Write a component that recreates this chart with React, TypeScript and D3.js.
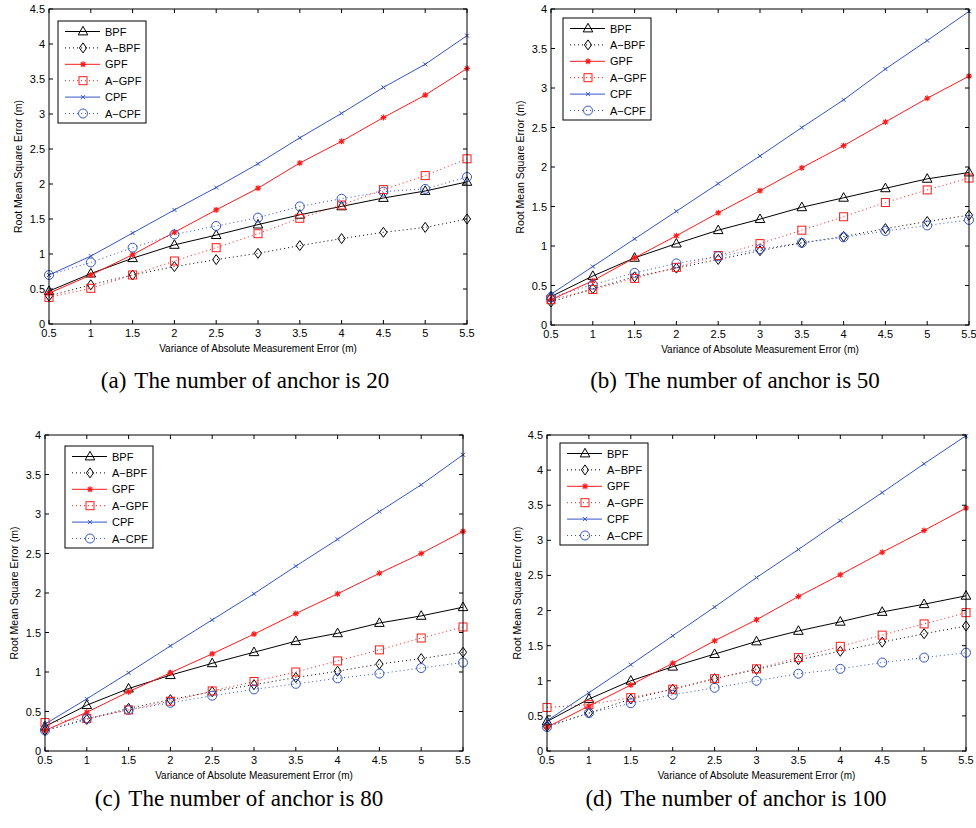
import React from "react";
import * as d3 from "d3";

// Variance of absolute measurement error (m)
const xValues = [0.5, 1, 1.5, 2, 2.5, 3, 3.5, 4, 4.5, 5, 5.5];
const xTicks = [0.5, 1, 1.5, 2, 2.5, 3, 3.5, 4, 4.5, 5, 5.5];

const seriesNames = ["BPF", "A\u2212BPF", "GPF", "A\u2212GPF", "CPF", "A\u2212CPF"];

// 20 anchors
const bpf20 = [0.47, 0.72, 0.94, 1.13, 1.27, 1.42, 1.56, 1.68, 1.80, 1.90, 2.03];
const abpf20 = [0.40, 0.56, 0.70, 0.82, 0.92, 1.01, 1.12, 1.22, 1.31, 1.38, 1.50];
const gpf20 = [0.44, 0.70, 0.99, 1.31, 1.63, 1.94, 2.30, 2.61, 2.95, 3.27, 3.65];
const agpf20 = [0.38, 0.51, 0.70, 0.90, 1.09, 1.29, 1.51, 1.70, 1.92, 2.12, 2.36];
const cpf20 = [0.70, 0.97, 1.30, 1.63, 1.95, 2.29, 2.66, 3.01, 3.38, 3.71, 4.12];
const acpf20 = [0.70, 0.88, 1.09, 1.28, 1.40, 1.52, 1.68, 1.79, 1.89, 1.93, 2.10];

// 50 anchors
const bpf50 = [0.36, 0.62, 0.85, 1.03, 1.20, 1.34, 1.49, 1.61, 1.73, 1.85, 1.93];
const abpf50 = [0.29, 0.46, 0.61, 0.72, 0.83, 0.94, 1.04, 1.12, 1.22, 1.31, 1.39];
const gpf50 = [0.32, 0.56, 0.85, 1.13, 1.42, 1.70, 1.99, 2.27, 2.57, 2.87, 3.15];
const agpf50 = [0.32, 0.45, 0.59, 0.73, 0.88, 1.03, 1.20, 1.37, 1.55, 1.71, 1.86];
const cpf50 = [0.39, 0.74, 1.09, 1.44, 1.79, 2.14, 2.50, 2.85, 3.24, 3.60, 3.97];
const acpf50 = [0.35, 0.51, 0.66, 0.78, 0.87, 0.96, 1.04, 1.11, 1.19, 1.26, 1.33];

// 80 anchors
const bpf80 = [0.31, 0.58, 0.79, 0.96, 1.11, 1.25, 1.39, 1.49, 1.62, 1.71, 1.82];
const abpf80 = [0.26, 0.40, 0.54, 0.65, 0.75, 0.84, 0.93, 1.01, 1.10, 1.17, 1.25];
const gpf80 = [0.26, 0.49, 0.75, 0.99, 1.23, 1.48, 1.74, 1.99, 2.25, 2.50, 2.78];
const agpf80 = [0.36, 0.41, 0.52, 0.63, 0.76, 0.88, 1.00, 1.14, 1.28, 1.43, 1.57];
const cpf80 = [0.34, 0.66, 0.99, 1.33, 1.66, 1.99, 2.34, 2.68, 3.03, 3.37, 3.75];
const acpf80 = [0.26, 0.41, 0.52, 0.61, 0.70, 0.78, 0.85, 0.92, 0.98, 1.05, 1.12];

// 100 anchors
const bpf100 = [0.42, 0.74, 1.00, 1.20, 1.38, 1.56, 1.71, 1.84, 1.98, 2.09, 2.21];
const abpf100 = [0.35, 0.54, 0.74, 0.88, 1.03, 1.16, 1.30, 1.42, 1.55, 1.67, 1.78];
const gpf100 = [0.34, 0.64, 0.94, 1.25, 1.57, 1.87, 2.20, 2.51, 2.83, 3.14, 3.46];
const agpf100 = [0.62, 0.66, 0.76, 0.88, 1.03, 1.17, 1.33, 1.49, 1.65, 1.81, 1.97];
const cpf100 = [0.43, 0.83, 1.23, 1.64, 2.05, 2.47, 2.87, 3.28, 3.68, 4.09, 4.49];
const acpf100 = [0.34, 0.54, 0.68, 0.80, 0.90, 1.00, 1.10, 1.17, 1.26, 1.33, 1.40];

const captionTags = ["(a)", "(b)", "(c)", "(d)"];
const captionTexts = [
  "The number of anchor is 20",
  "The number of anchor is 50",
  "The number of anchor is 80",
  "The number of anchor is 100",
];

const yMaxes = [4.5, 4, 4, 4.5];

const BLACK = "#000000";
const RED = "#ff1a1a";
const BLUE = "#3355c4";

type Marker = "triangle" | "diamond" | "star" | "square" | "x" | "circle";

const styles: { color: string; dotted: boolean; marker: Marker }[] = [
  { color: BLACK, dotted: false, marker: "triangle" },
  { color: BLACK, dotted: true, marker: "diamond" },
  { color: RED, dotted: false, marker: "star" },
  { color: RED, dotted: true, marker: "square" },
  { color: BLUE, dotted: false, marker: "x" },
  { color: BLUE, dotted: true, marker: "circle" },
];

const panelSeries = [
  [bpf20, abpf20, gpf20, agpf20, cpf20, acpf20],
  [bpf50, abpf50, gpf50, agpf50, cpf50, acpf50],
  [bpf80, abpf80, gpf80, agpf80, cpf80, acpf80],
  [bpf100, abpf100, gpf100, agpf100, cpf100, acpf100],
];

const layouts = [
  { left: 49, right: 467, top: 9, bottom: 324, legX: 58, legY: 21, yLabelX: 18, captionX: 245, captionY: 388 },
  { left: 551, right: 969, top: 9, bottom: 325, legX: 563, legY: 18, yLabelX: 520, captionX: 735, captionY: 388 },
  { left: 45, right: 463, top: 435, bottom: 751, legX: 65, legY: 446, yLabelX: 14, captionX: 239, captionY: 806 },
  { left: 547, right: 966, top: 435, bottom: 751, legX: 560, legY: 443, yLabelX: 517, captionX: 736, captionY: 806 },
];

const AXIS_FONT = "'Liberation Sans', Arial, Helvetica, sans-serif";
const CAPTION_FONT = "'Liberation Serif', 'Times New Roman', Times, serif";

function MarkerGlyph({ kind, x, y, color }: { kind: Marker; x: number; y: number; color: string }) {
  const t = `translate(${x},${y})`;
  switch (kind) {
    case "triangle":
      return <path transform={t} d="M0,-5.2 L4.8,3.4 L-4.8,3.4 Z" fill="none" stroke={color} strokeWidth={1} />;
    case "diamond":
      return <path transform={t} d="M0,-5 L3.6,0 L0,5 L-3.6,0 Z" fill="none" stroke={color} strokeWidth={1} />;
    case "square":
      return <rect transform={t} x={-4} y={-4} width={8} height={8} fill="none" stroke={color} strokeWidth={1} />;
    case "circle":
      return <circle transform={t} r={4.5} fill="none" stroke={color} strokeWidth={1} />;
    case "x":
      return <path transform={t} d="M-2,-2 L2,2 M-2,2 L2,-2" fill="none" stroke={color} strokeWidth={1} />;
    case "star":
      return (
        <path
          transform={t}
          d="M-3,0 L3,0 M0,-3 L0,3 M-2.2,-2.2 L2.2,2.2 M-2.2,2.2 L2.2,-2.2"
          fill="none"
          stroke={color}
          strokeWidth={1.1}
        />
      );
  }
  return null;
}

function Panel({ index }: { index: number }) {
  const L = layouts[index];
  const yMax = yMaxes[index];
  const series = panelSeries[index];
  const x = d3.scaleLinear().domain([0.5, 5.5]).range([L.left, L.right]);
  const y = d3.scaleLinear().domain([0, yMax]).range([L.bottom, L.top]);
  const yTicks = d3.range(0, yMax + 0.001, 0.5);
  const line = d3
    .line<number>()
    .x((_, i) => x(xValues[i]))
    .y((d) => y(d));
  const tickLen = 4;

  const rowH = 16.4;
  const legW = 88;
  const legH = 102;

  return (
    <g>
      <rect x={L.left} y={L.top} width={L.right - L.left} height={L.bottom - L.top} fill="white" stroke="none" />

      {/* series */}
      {series.map((vals, si) => {
        const s = styles[si];
        return (
          <g key={si}>
            <path
              d={line(vals) || ""}
              fill="none"
              stroke={s.color}
              strokeWidth={1}
              strokeDasharray={s.dotted ? "1,3" : undefined}
            />
            {vals.map((v, i) => (
              <MarkerGlyph key={i} kind={s.marker} x={x(xValues[i])} y={y(v)} color={s.color} />
            ))}
          </g>
        );
      })}

      {/* ticks on all four sides */}
      {xTicks.map((t) => (
        <g key={"xt" + t}>
          <line x1={x(t)} x2={x(t)} y1={L.bottom} y2={L.bottom - tickLen} stroke="#000" strokeWidth={1} />
          <line x1={x(t)} x2={x(t)} y1={L.top} y2={L.top + tickLen} stroke="#000" strokeWidth={1} />
          <text x={x(t)} y={L.bottom + 13} textAnchor="middle" fontFamily={AXIS_FONT} fontSize={11} fill="#000">
            {String(t)}
          </text>
        </g>
      ))}
      {yTicks.map((t) => (
        <g key={"yt" + t}>
          <line x1={L.left} x2={L.left + tickLen} y1={y(t)} y2={y(t)} stroke="#000" strokeWidth={1} />
          <line x1={L.right} x2={L.right - tickLen} y1={y(t)} y2={y(t)} stroke="#000" strokeWidth={1} />
          <text x={L.left - 4} y={y(t) + 4} textAnchor="end" fontFamily={AXIS_FONT} fontSize={11} fill="#000">
            {String(t)}
          </text>
        </g>
      ))}
      <rect
        x={L.left}
        y={L.top}
        width={L.right - L.left}
        height={L.bottom - L.top}
        fill="none"
        stroke="#000"
        strokeWidth={1}
      />

      {/* axis titles */}
      <text
        x={(L.left + L.right) / 2}
        y={L.bottom + 28}
        textAnchor="middle"
        fontFamily={AXIS_FONT}
        fontSize={10}
        fill="#000"
      >
        Variance of Absolute Measurement Error (m)
      </text>
      <text
        transform={`translate(${L.yLabelX + 4},${(L.top + L.bottom) / 2}) rotate(-90)`}
        textAnchor="middle"
        fontFamily={AXIS_FONT}
        fontSize={10.5}
        fill="#000"
      >
        Root Mean Square Error (m)
      </text>

      {/* legend */}
      <rect x={L.legX} y={L.legY} width={legW} height={legH} fill="white" stroke="#000" strokeWidth={1} />
      {seriesNames.map((name, si) => {
        const s = styles[si];
        const cy = L.legY + 10.5 + si * rowH;
        return (
          <g key={"lg" + si}>
            <line
              x1={L.legX + 7}
              x2={L.legX + 42}
              y1={cy}
              y2={cy}
              stroke={s.color}
              strokeWidth={1}
              strokeDasharray={s.dotted ? "1,3" : undefined}
            />
            <MarkerGlyph kind={s.marker} x={L.legX + 25} y={cy} color={s.color} />
            <text x={L.legX + 47} y={cy + 4} fontFamily={AXIS_FONT} fontSize={11} fill="#000">
              {name}
            </text>
          </g>
        );
      })}

      {/* caption */}
      <text x={L.captionX} y={L.captionY} textAnchor="middle" fontFamily={CAPTION_FONT} fontSize={23} fill="#000">
        <tspan>{captionTags[index]}</tspan>
        <tspan dx={8}>{captionTexts[index]}</tspan>
      </text>
    </g>
  );
}

export default function App() {
  return (
    <svg
      width={976}
      height={828}
      viewBox="0 0 976 828"
      style={{ position: "absolute", left: 0, top: 0, background: "white" }}
    >
      <rect x={0} y={0} width={976} height={828} fill="white" />
      {[0, 1, 2, 3].map((i) => (
        <Panel key={i} index={i} />
      ))}
    </svg>
  );
}
